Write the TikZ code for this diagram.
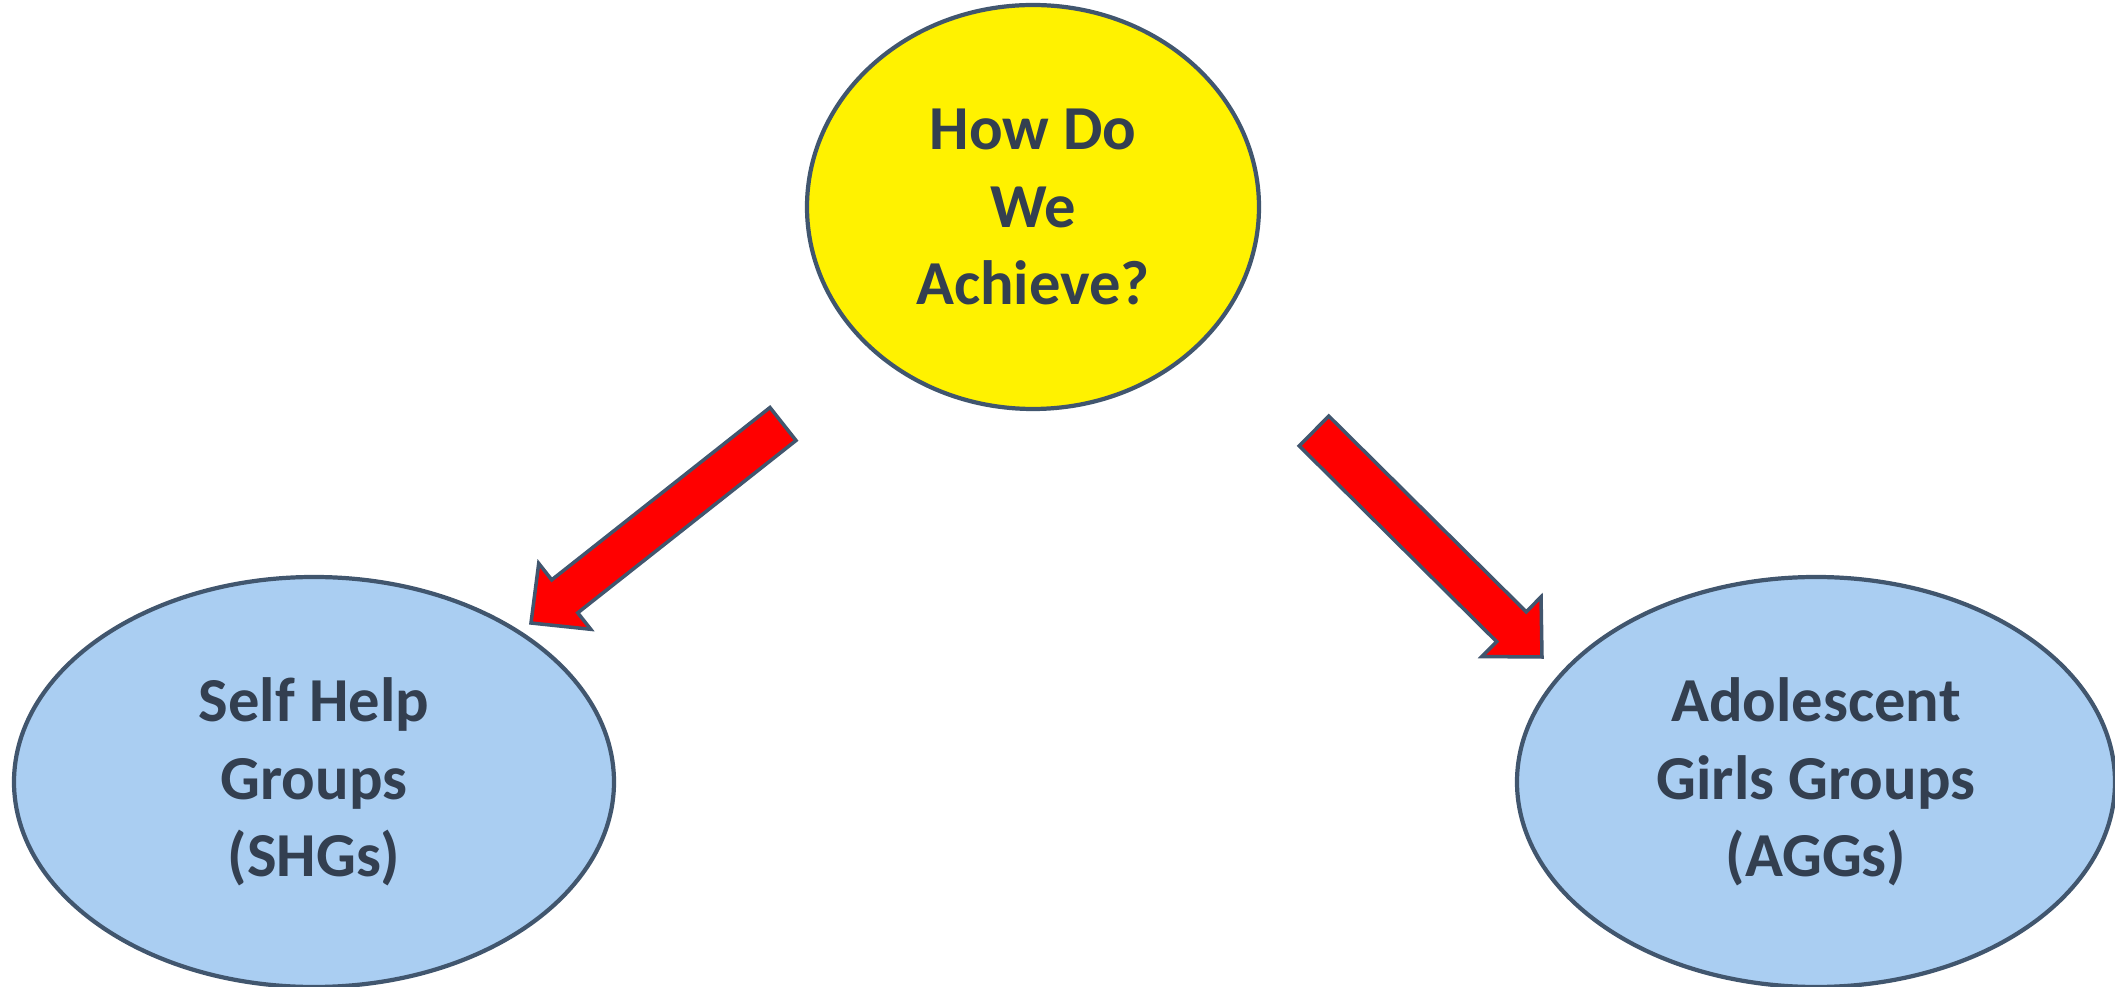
\documentclass[tikz,border=0pt]{standalone}
\usepackage{fontspec}
\setmainfont{Carlito}
\usetikzlibrary{shapes.geometric,calc}

\definecolor{txtcol}{HTML}{333F50}
\definecolor{bluefill}{HTML}{AACEF2}
\definecolor{edgecol}{HTML}{41566E}

\tikzset{
  bubble/.style={draw=edgecol, line width=1.2pt, ellipse, inner sep=0pt, align=center,
    text=txtcol, font=\fontsize{17.8}{22.1}\selectfont\bfseries},
  redarrow/.style={fill=red, draw=edgecol, line width=1pt, line join=miter}
}

% block arrow from tail #1 to tip #2
\newcommand{\fatarrow}[2]{%
  \coordinate (#1b) at ($(#2)!0.43cm!(#1)$);
  \filldraw[redarrow] ($(#1)!0.21cm!90:(#2)$) -- ($(#1b)!0.21cm!90:(#2)$)
    -- ($(#1b)!0.42cm!90:(#2)$) -- (#2) -- ($(#1b)!0.42cm!-90:(#2)$)
    -- ($(#1b)!0.21cm!-90:(#2)$) -- ($(#1)!0.21cm!-90:(#2)$) -- cycle;
}

\begin{document}
\begin{tikzpicture}
    \useasboundingbox (0,0) rectangle (21.15,9.87);

    \node[bubble, fill=yellow, minimum width=4.52cm, minimum height=4.04cm] (how) at (10.33,7.80) {How Do\\We\\Achieve?};
    \node[bubble, fill=bluefill, minimum width=6.0cm, minimum height=4.1cm] (shg) at (3.14,2.05) {Self Help\\Groups\\(SHGs)};
    \node[bubble, fill=bluefill, minimum width=5.98cm, minimum height=4.1cm] (agg) at (18.16,2.05) {Adolescent\\Girls Groups\\(AGGs)};

    \coordinate (t1) at (7.83,5.63);
    \coordinate (h1) at (5.31,3.64);
    \coordinate (t2) at (13.14,5.56);
    \coordinate (h2) at (15.42,3.30);

    \fatarrow{t1}{h1}
    \fatarrow{t2}{h2}
\end{tikzpicture}
\end{document}
